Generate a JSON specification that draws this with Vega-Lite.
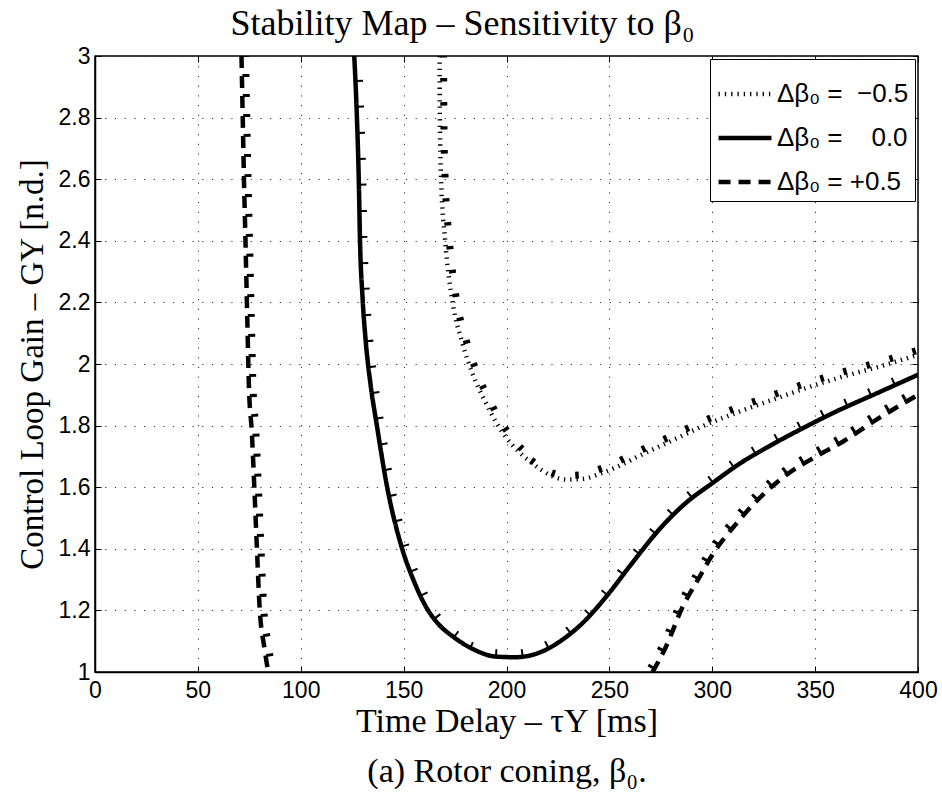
{
  "$schema": "https://vega.github.io/schema/vega-lite/v6.json",
  "width": 823,
  "height": 616,
  "autosize": {"type": "none"},
  "padding": {"left": 95, "top": 56, "right": 24, "bottom": 120},
  "background": "white",
  "config": {
    "view": {"stroke": "black", "strokeWidth": 1.5},
    "axis": {
      "labelFont": "Liberation Sans", "labelFontSize": 23, "labelColor": "black", "labelFlush": false,
      "titleFont": "Liberation Serif", "titleFontSize": 34, "titleFontWeight": "normal", "titleColor": "black",
      "domainColor": "black", "domainWidth": 1.5, "tickColor": "black", "tickWidth": 1,
      "gridColor": "#333", "gridDash": [1.2, 8.5], "gridWidth": 1, "gridOpacity": 1
    }
  },
  "title": {"text": "Stability Map – Sensitivity to β₀", "font": "Liberation Serif", "fontSize": 36, "fontWeight": "normal", "color": "black", "anchor": "middle", "offset": 2, "dx": -44},
  "datasets": {
    "curves": [
      {"series": "0.0", "branch": "a", "x": 126, "y": 3.0},
      {"series": "0.0", "branch": "a", "x": 127.3, "y": 2.8},
      {"series": "0.0", "branch": "a", "x": 128.2, "y": 2.6},
      {"series": "0.0", "branch": "a", "x": 128.8, "y": 2.4},
      {"series": "0.0", "branch": "a", "x": 130, "y": 2.22},
      {"series": "0.0", "branch": "a", "x": 131.5, "y": 2.08},
      {"series": "0.0", "branch": "a", "x": 134, "y": 1.93},
      {"series": "0.0", "branch": "a", "x": 137, "y": 1.8},
      {"series": "0.0", "branch": "a", "x": 142, "y": 1.6},
      {"series": "0.0", "branch": "a", "x": 149.3, "y": 1.4},
      {"series": "0.0", "branch": "a", "x": 155, "y": 1.295},
      {"series": "0.0", "branch": "a", "x": 161, "y": 1.21},
      {"series": "0.0", "branch": "a", "x": 167, "y": 1.155},
      {"series": "0.0", "branch": "a", "x": 174, "y": 1.115},
      {"series": "0.0", "branch": "a", "x": 183.5, "y": 1.075},
      {"series": "0.0", "branch": "a", "x": 195, "y": 1.05},
      {"series": "0.0", "branch": "a", "x": 204.5, "y": 1.048},
      {"series": "0.0", "branch": "a", "x": 216, "y": 1.063},
      {"series": "0.0", "branch": "a", "x": 227, "y": 1.104},
      {"series": "0.0", "branch": "a", "x": 238.5, "y": 1.169},
      {"series": "0.0", "branch": "a", "x": 248.5, "y": 1.245},
      {"series": "0.0", "branch": "a", "x": 261, "y": 1.353},
      {"series": "0.0", "branch": "a", "x": 274, "y": 1.461},
      {"series": "0.0", "branch": "a", "x": 287, "y": 1.548},
      {"series": "0.0", "branch": "a", "x": 300, "y": 1.613},
      {"series": "0.0", "branch": "a", "x": 313, "y": 1.675},
      {"series": "0.0", "branch": "a", "x": 329, "y": 1.738},
      {"series": "0.0", "branch": "a", "x": 345, "y": 1.795},
      {"series": "0.0", "branch": "a", "x": 360, "y": 1.845},
      {"series": "0.0", "branch": "a", "x": 380, "y": 1.905},
      {"series": "0.0", "branch": "a", "x": 400, "y": 1.965},
      {"series": "-0.5", "branch": "a", "x": 167.5, "y": 3.0},
      {"series": "-0.5", "branch": "a", "x": 167.6, "y": 2.8},
      {"series": "-0.5", "branch": "a", "x": 168.2, "y": 2.6},
      {"series": "-0.5", "branch": "a", "x": 170.2, "y": 2.4},
      {"series": "-0.5", "branch": "a", "x": 173.8, "y": 2.2},
      {"series": "-0.5", "branch": "a", "x": 178.5, "y": 2.07},
      {"series": "-0.5", "branch": "a", "x": 184, "y": 1.96},
      {"series": "-0.5", "branch": "a", "x": 189.5, "y": 1.88},
      {"series": "-0.5", "branch": "a", "x": 195, "y": 1.81},
      {"series": "-0.5", "branch": "a", "x": 200, "y": 1.76},
      {"series": "-0.5", "branch": "a", "x": 206, "y": 1.715},
      {"series": "-0.5", "branch": "a", "x": 213, "y": 1.675},
      {"series": "-0.5", "branch": "a", "x": 221, "y": 1.64},
      {"series": "-0.5", "branch": "a", "x": 229, "y": 1.625},
      {"series": "-0.5", "branch": "a", "x": 237, "y": 1.627},
      {"series": "-0.5", "branch": "a", "x": 246, "y": 1.645},
      {"series": "-0.5", "branch": "a", "x": 255, "y": 1.67},
      {"series": "-0.5", "branch": "a", "x": 264, "y": 1.7},
      {"series": "-0.5", "branch": "a", "x": 280, "y": 1.75},
      {"series": "-0.5", "branch": "a", "x": 296, "y": 1.8},
      {"series": "-0.5", "branch": "a", "x": 313, "y": 1.845},
      {"series": "-0.5", "branch": "a", "x": 331, "y": 1.888},
      {"series": "-0.5", "branch": "a", "x": 347, "y": 1.925},
      {"series": "-0.5", "branch": "a", "x": 365, "y": 1.962},
      {"series": "-0.5", "branch": "a", "x": 383, "y": 1.995},
      {"series": "-0.5", "branch": "a", "x": 400, "y": 2.03},
      {"series": "+0.5", "branch": "a", "x": 71.2, "y": 3.0},
      {"series": "+0.5", "branch": "a", "x": 71.8, "y": 2.8},
      {"series": "+0.5", "branch": "a", "x": 72.4, "y": 2.6},
      {"series": "+0.5", "branch": "a", "x": 73.1, "y": 2.41},
      {"series": "+0.5", "branch": "a", "x": 74, "y": 2.15},
      {"series": "+0.5", "branch": "a", "x": 74.8, "y": 1.93},
      {"series": "+0.5", "branch": "a", "x": 76.2, "y": 1.78},
      {"series": "+0.5", "branch": "a", "x": 77.5, "y": 1.59},
      {"series": "+0.5", "branch": "a", "x": 78.7, "y": 1.4},
      {"series": "+0.5", "branch": "a", "x": 80, "y": 1.21},
      {"series": "+0.5", "branch": "a", "x": 82.3, "y": 1.08},
      {"series": "+0.5", "branch": "a", "x": 84.2, "y": 1.0},
      {"series": "+0.5", "branch": "b", "x": 271, "y": 1.0},
      {"series": "+0.5", "branch": "b", "x": 277.5, "y": 1.082},
      {"series": "+0.5", "branch": "b", "x": 285.5, "y": 1.21},
      {"series": "+0.5", "branch": "b", "x": 293.5, "y": 1.305},
      {"series": "+0.5", "branch": "b", "x": 300, "y": 1.38},
      {"series": "+0.5", "branch": "b", "x": 311.5, "y": 1.48},
      {"series": "+0.5", "branch": "b", "x": 323, "y": 1.565},
      {"series": "+0.5", "branch": "b", "x": 336, "y": 1.64},
      {"series": "+0.5", "branch": "b", "x": 350.5, "y": 1.7},
      {"series": "+0.5", "branch": "b", "x": 364, "y": 1.75},
      {"series": "+0.5", "branch": "b", "x": 380, "y": 1.82},
      {"series": "+0.5", "branch": "b", "x": 400, "y": 1.9}
    ]
  },
  "data": {"name": "curves"},
  "layer": [
    {
      "transform": [{"filter": "(datum.series === '0.0' && datum.x <= 185) || (datum.series === '-0.5' && datum.x <= 215) || (datum.series === '+0.5' && datum.x < 150)"}],
      "mark": {"type": "line", "interpolate": "monotone", "xOffset": 4, "yOffset": -2, "color": "black", "clip": true},
      "encoding": {
        "x": {"field": "x", "type": "quantitative", "scale": {"domain": [0, 400], "nice": false, "zero": false},
              "axis": {"orient": "top", "labels": false, "grid": false, "domain": false, "tickSize": -6, "values": [0, 50, 100, 150, 200, 250, 300, 350, 400], "title": null}},
        "y": {"field": "y", "type": "quantitative", "scale": {"domain": [1, 3], "nice": false, "zero": false},
              "axis": {"orient": "right", "labels": false, "grid": false, "domain": false, "tickSize": -6, "values": [1, 1.2, 1.4, 1.6, 1.8, 2, 2.2, 2.4, 2.6, 2.8, 3], "title": null}},
        "detail": {"field": "branch"},
        "strokeDash": {"field": "series", "type": "nominal", "scale": {"domain": ["-0.5", "0.0", "+0.5"], "range": [[3.5, 20.5], [2, 24], [3, 17]]}, "legend": null},
        "strokeWidth": {"field": "series", "type": "nominal", "scale": {"domain": ["-0.5", "0.0", "+0.5"], "range": [7, 7, 8]}, "legend": null}
      }
    },
    {
      "transform": [{"filter": "(datum.series === '0.0' && datum.x >= 183) || (datum.series === '-0.5' && datum.x >= 213) || (datum.series === '+0.5' && datum.x > 150)"}],
      "mark": {"type": "line", "interpolate": "monotone", "xOffset": -2, "yOffset": -4, "color": "black", "clip": true},
      "encoding": {
        "x": {"field": "x", "type": "quantitative", "axis": null},
        "y": {"field": "y", "type": "quantitative", "axis": null},
        "detail": {"field": "branch"},
        "strokeDash": {"field": "series", "type": "nominal", "scale": {"domain": ["-0.5", "0.0", "+0.5"], "range": [[3.5, 20.5], [2, 24], [3, 17]]}, "legend": null},
        "strokeWidth": {"field": "series", "type": "nominal", "scale": {"domain": ["-0.5", "0.0", "+0.5"], "range": [7, 7, 8]}, "legend": null}
      }
    },
    {
      "mark": {"type": "line", "interpolate": "monotone", "color": "black", "clip": true},
      "encoding": {
        "x": {"field": "x", "type": "quantitative",
              "axis": {"orient": "bottom", "values": [0, 50, 100, 150, 200, 250, 300, 350, 400], "tickSize": -6, "labelPadding": 13, "domain": true, "grid": true,
                       "title": ["Time Delay – τY [ms]", "(a) Rotor coning, β₀."], "titleLineHeight": 50, "titlePadding": 2}},
        "y": {"field": "y", "type": "quantitative",
              "axis": {"orient": "left", "values": [1, 1.2, 1.4, 1.6, 1.8, 2, 2.2, 2.4, 2.6, 2.8, 3], "format": ".1~f", "tickSize": -6, "labelPadding": 11, "domain": true, "grid": true,
                       "title": "Control Loop Gain – GY [n.d.]", "titleFontSize": 33, "titlePadding": 9}},
        "detail": {"field": "branch"},
        "strokeDash": {"field": "series", "type": "nominal", "scale": {"domain": ["-0.5", "0.0", "+0.5"], "range": [[1.3, 5], [1, 0], [12, 8]]},
                       "legend": {"title": null, "orient": "none", "legendX": 615, "legendY": 3, "direction": "vertical",
                                  "strokeColor": "black", "fillColor": "white", "padding": 6, "symbolType": "stroke", "symbolSize": 2800,
                                  "symbolStrokeColor": "black", "labelFont": "Liberation Sans", "labelFontSize": 26, "labelColor": "black",
                                  "rowPadding": 2, "labelOffset": 3,
                                  "labelExpr": "'Δβ₀ = ' + (datum.label === '0.0' ? '\u00a0\u20070.0' : datum.label === '-0.5' ? '\u00a0−0.5' : '+0.5')"}},
        "strokeWidth": {"field": "series", "type": "nominal", "scale": {"domain": ["-0.5", "0.0", "+0.5"], "range": [4.5, 4.5, 5]},
                        "legend": {"title": null, "orient": "none", "legendX": 615, "legendY": 3, "direction": "vertical",
                                   "strokeColor": "black", "fillColor": "white", "padding": 6, "symbolType": "stroke", "symbolSize": 2800,
                                   "symbolStrokeColor": "black", "labelFont": "Liberation Sans", "labelFontSize": 26, "labelColor": "black",
                                   "rowPadding": 2, "labelOffset": 3,
                                   "labelExpr": "'Δβ₀ = ' + (datum.label === '0.0' ? '\u00a0\u20070.0' : datum.label === '-0.5' ? '\u00a0−0.5' : '+0.5')"}}
      }
    }
  ],
  "resolve": {"scale": {"strokeDash": "independent", "strokeWidth": "independent"}, "axis": {"x": "independent", "y": "independent"}}
}
